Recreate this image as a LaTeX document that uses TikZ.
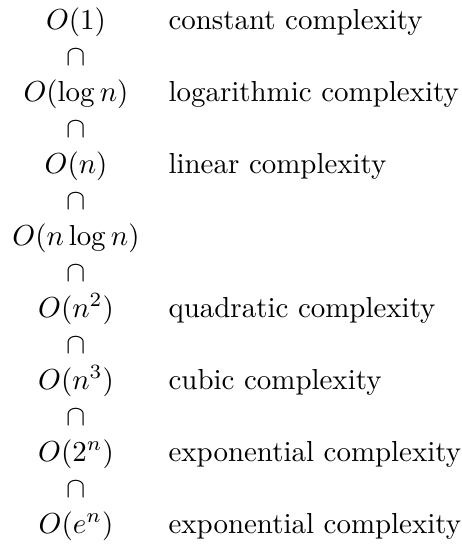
\documentclass[tikz,border=0pt]{standalone}
\begin{document}
\begin{tikzpicture}[x=0.34566pt,y=-0.34566pt,
  mathcell/.style={anchor=base,inner sep=0pt},
  capcell/.style={anchor=base,inner sep=0pt},
  desccell/.style={anchor=base west,inner sep=0pt}]
\useasboundingbox (0,0) rectangle (462,544);
\node[mathcell] (m0) at (76,29) {$O(1)$};
\node[capcell] (c0) at (76,65) {$\cap$};
\node[mathcell] (m1) at (76,101) {$O(\log n)$};
\node[capcell] (c1) at (76,137) {$\cap$};
\node[mathcell] (m2) at (76,173) {$O(n)$};
\node[capcell] (c2) at (76,209) {$\cap$};
\node[mathcell] (m3) at (76,245) {$O(n\log n)$};
\node[capcell] (c3) at (76,281) {$\cap$};
\node[mathcell] (m4) at (76,317) {$O(n^2)$};
\node[capcell] (c4) at (76,353) {$\cap$};
\node[mathcell] (m5) at (76,389) {$O(n^3)$};
\node[capcell] (c5) at (76,425) {$\cap$};
\node[mathcell] (m6) at (76,461) {$O(2^n)$};
\node[capcell] (c6) at (76,497) {$\cap$};
\node[mathcell] (m7) at (76,533) {$O(e^n)$};
\node[desccell] (d0) at (168,29) {constant complexity};
\node[desccell] (d1) at (168,101) {logarithmic complexity};
\node[desccell] (d2) at (168,173) {linear complexity};
\node[desccell] (d4) at (168,317) {quadratic complexity};
\node[desccell] (d5) at (168,389) {cubic complexity};
\node[desccell] (d6) at (168,461) {exponential complexity};
\node[desccell] (d7) at (168,533) {exponential complexity};
\end{tikzpicture}
\end{document}
